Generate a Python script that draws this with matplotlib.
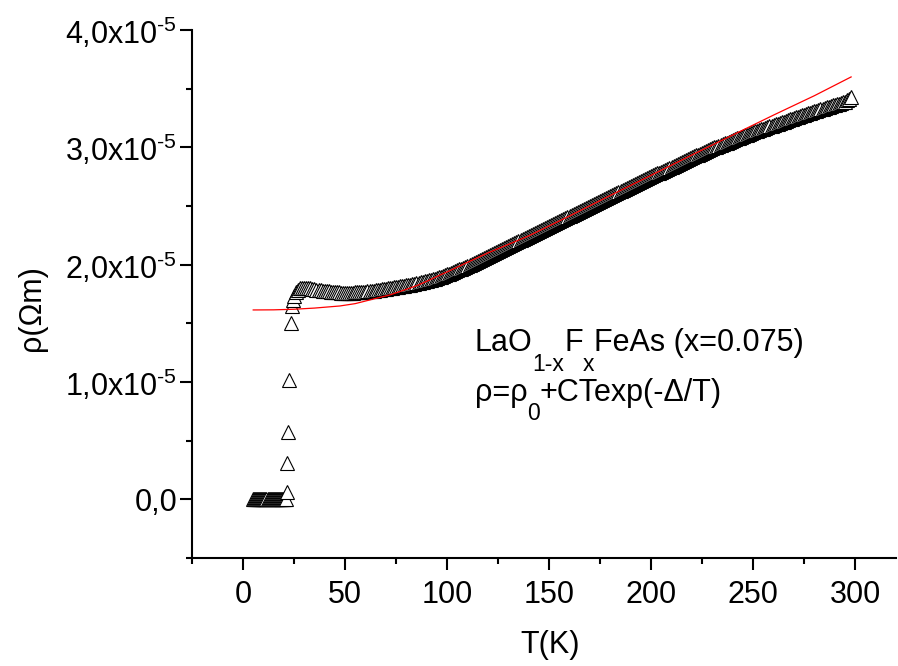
import matplotlib
matplotlib.use("Agg")
import matplotlib.pyplot as plt
from matplotlib.ticker import MultipleLocator

plt.rcParams['font.family'] = ['Liberation Sans', 'DejaVu Sans']
plt.rcParams['mathtext.fontset'] = 'custom'
plt.rcParams['mathtext.rm'] = 'Liberation Sans'
plt.rcParams['mathtext.it'] = 'Liberation Sans'
plt.rcParams['mathtext.default'] = 'regular'

# ---- data (resistivity in units of 1e-5 Ohm m) ----
T_low = [5.0, 5.5, 6.0, 6.5, 7.0, 7.5, 8.0, 8.5, 9.0, 9.5, 10.0, 10.5, 11.0, 11.5,
         12.0, 12.5, 13.0, 13.5, 14.0, 14.5, 15.0, 15.5, 16.0, 16.5, 17.0, 17.5,
         18.0, 18.5, 19.0, 19.5, 20.0, 20.5, 21.0]
rho_low = [0.0, 0.0, 0.0, 0.0, 0.0, 0.0, 0.0, 0.0, 0.0, 0.0, 0.0, 0.0, 0.0, 0.0,
           0.0, 0.0, 0.0, 0.0, 0.0, 0.0, 0.0, 0.0, 0.0, 0.0, 0.0, 0.0,
           0.0, 0.0, 0.0, 0.0, 0.0, 0.0, 0.0]

T_trans = [21.7, 21.6, 22.1, 22.7, 23.4, 23.9, 24.3]
rho_trans = [0.06, 0.306, 0.576, 1.015, 1.50, 1.645, 1.70]

T_main = [
    25, 26, 27, 28, 29, 30, 31, 32, 33, 34, 35, 36, 37, 38, 39, 40, 41, 42, 43, 44,
    45, 46, 47, 48, 49, 50, 51, 52, 53, 54, 55, 56, 57, 58, 59, 60, 61, 62, 63, 64,
    65, 66, 67, 68, 69, 70, 71, 72, 73, 74, 75, 76, 77, 78, 79, 80, 81, 82, 83, 84,
    85, 86, 87, 88, 89, 90, 91, 92, 93, 94, 95, 96, 97, 98, 99, 100, 101, 102, 103, 104,
    105, 106, 107, 108, 109, 110, 111, 112, 113, 114, 115, 116, 117, 118, 119, 120, 121, 122, 123, 124,
    125, 126, 127, 128, 129, 130, 131, 132, 133, 134, 135, 136, 137, 138, 139, 140, 141, 142, 143, 144,
    145, 146, 147, 148, 149, 150, 151, 152, 153, 154, 155, 156, 157, 158, 159, 160, 161, 162, 163, 164,
    165, 166, 167, 168, 169, 170, 171, 172, 173, 174, 175, 176, 177, 178, 179, 180, 181, 182, 183, 184,
    185, 186, 187, 188, 189, 190, 191, 192, 193, 194, 195, 196, 197, 198, 199, 200, 201, 202, 203, 204,
    205, 206, 207, 208, 209, 210, 211, 212, 213, 214, 215, 216, 217, 218, 219, 220, 221, 222, 223, 224,
    225, 226, 227, 228, 229, 230, 231, 232, 233, 234, 235, 236, 237, 238, 239, 240, 241, 242, 243, 244,
    245, 246, 247, 248, 249, 250, 251, 252, 253, 254, 255, 256, 257, 258, 259, 260, 261, 262, 263, 264,
    265, 266, 267, 268, 269, 270, 271, 272, 273, 274, 275, 276, 277, 278, 279, 280, 281, 282, 283, 284,
    285, 286, 287, 288, 289, 290, 291, 292, 293, 294, 295, 296, 297, 298]
rho_main = [
    1.730, 1.765, 1.785, 1.797, 1.803, 1.805, 1.804, 1.801, 1.798, 1.795,
    1.791, 1.788, 1.785, 1.782, 1.779, 1.776, 1.774, 1.772, 1.770, 1.768,
    1.766, 1.764, 1.763, 1.762, 1.761, 1.760, 1.760, 1.760, 1.761, 1.762,
    1.763, 1.764, 1.765, 1.767, 1.769, 1.771, 1.773, 1.775, 1.777, 1.779,
    1.782, 1.784, 1.787, 1.790, 1.793, 1.796, 1.798, 1.801, 1.804, 1.806,
    1.809, 1.812, 1.815, 1.818, 1.821, 1.824, 1.827, 1.830, 1.834, 1.837,
    1.841, 1.845, 1.849, 1.853, 1.857, 1.862, 1.866, 1.871, 1.876, 1.881,
    1.886, 1.892, 1.898, 1.904, 1.910, 1.917, 1.924, 1.931, 1.938, 1.945,
    1.952, 1.960, 1.967, 1.975, 1.982, 1.990, 1.998, 2.006, 2.014, 2.022,
    2.030, 2.039, 2.047, 2.055, 2.064, 2.072, 2.081, 2.089, 2.098, 2.106,
    2.115, 2.123, 2.132, 2.140, 2.149, 2.157, 2.166, 2.174, 2.183, 2.191,
    2.200, 2.208, 2.217, 2.225, 2.234, 2.242, 2.251, 2.259, 2.268, 2.276,
    2.285, 2.293, 2.302, 2.310, 2.319, 2.327, 2.336, 2.344, 2.353, 2.361,
    2.370, 2.378, 2.387, 2.395, 2.404, 2.412, 2.421, 2.429, 2.438, 2.446,
    2.455, 2.463, 2.472, 2.480, 2.489, 2.497, 2.506, 2.514, 2.523, 2.531,
    2.540, 2.548, 2.557, 2.565, 2.574, 2.582, 2.591, 2.599, 2.608, 2.616,
    2.625, 2.633, 2.642, 2.650, 2.659, 2.667, 2.676, 2.684, 2.693, 2.701,
    2.710, 2.718, 2.727, 2.735, 2.744, 2.752, 2.760, 2.769, 2.777, 2.785,
    2.794, 2.802, 2.810, 2.819, 2.827, 2.835, 2.843, 2.851, 2.859, 2.867,
    2.875, 2.883, 2.891, 2.899, 2.907, 2.915, 2.923, 2.931, 2.938, 2.946,
    2.954, 2.961, 2.969, 2.976, 2.984, 2.991, 2.999, 3.006, 3.013, 3.020,
    3.027, 3.034, 3.041, 3.048, 3.055, 3.062, 3.069, 3.076, 3.082, 3.089,
    3.096, 3.102, 3.109, 3.115, 3.122, 3.128, 3.135, 3.141, 3.147, 3.154,
    3.160, 3.166, 3.172, 3.178, 3.184, 3.190, 3.196, 3.202, 3.208, 3.214,
    3.220, 3.226, 3.232, 3.238, 3.244, 3.250, 3.256, 3.262, 3.267, 3.273,
    3.279, 3.284, 3.290, 3.296, 3.301, 3.307, 3.313, 3.318, 3.324, 3.329,
    3.335, 3.340, 3.346, 3.351, 3.357, 3.362, 3.368, 3.373, 3.379, 3.384,
    3.390, 3.400, 3.410, 3.425]

T_fit = [5, 15, 25, 35, 47.5, 55, 60, 65, 72, 78, 85, 90, 96.6, 101.5, 110, 120,
         140, 160, 180, 200, 220, 240, 260, 280, 298]
rho_fit = [1.614, 1.615, 1.620, 1.630, 1.648, 1.668, 1.690, 1.712, 1.742, 1.778,
           1.820, 1.858, 1.912, 1.950, 2.020, 2.100, 2.245, 2.415, 2.590, 2.762,
           2.935, 3.105, 3.275, 3.440, 3.600]

x_ticks = [0, 50, 100, 150, 200, 250, 300]
y_ticks = [0.0, 1.0, 2.0, 3.0, 4.0]
y_tick_labels = ['0,0', '1,0x10$^{\u20105}$', '2,0x10$^{\u20105}$',
                 '3,0x10$^{\u20105}$', '4,0x10$^{\u20105}$']

line1 = [('LaO', False), ('1-x', True), ('F', False), ('x', True), ('FeAs (x=0.075)', False)]
line2 = [('ρ=ρ', False), ('0', True), ('+CTexp(-Δ/T)', False)]

SCALE = 1e-5
FS = 22
SUB_FS = 16.5

fig = plt.figure(figsize=(8.98, 6.66), dpi=100)
ax = fig.add_axes([192/898, 108/666, 704/898, 528/666])

T_all = T_low + T_trans + T_main
rho_all = [r * SCALE for r in (rho_low + rho_trans + rho_main)]
ax.plot(T_all, rho_all, linestyle='none', marker='^', markersize=9.5,
        markerfacecolor='white', markeredgecolor='black', markeredgewidth=0.8, zorder=2)
ax.plot(T_fit, [r * SCALE for r in rho_fit], color='#ff0000', lw=0.9, zorder=3)

ax.set_xlim(-25, 320)
ax.set_ylim(-0.5 * SCALE, 4.0 * SCALE)
ax.set_xticks(x_ticks)
ax.set_xticklabels([str(t) for t in x_ticks])
ax.xaxis.set_minor_locator(MultipleLocator(25))
ax.set_yticks([v * SCALE for v in y_ticks])
ax.set_yticklabels(y_tick_labels)
ax.yaxis.set_minor_locator(MultipleLocator(0.5 * SCALE))

for s in ['top', 'right']:
    ax.spines[s].set_visible(False)
for s in ['left', 'bottom']:
    ax.spines[s].set_linewidth(1.5)

ax.tick_params(which='major', direction='out', length=8.6, width=1.5, labelsize=FS)
ax.tick_params(axis='x', which='major', pad=7)
ax.tick_params(axis='y', which='major', pad=2)
ax.tick_params(which='minor', direction='out', length=4.3, width=1.5)

fig.text(0.036, 0.537, 'ρ(Ωm)', rotation=90, ha='center', va='center', fontsize=FS)
fig.text(550 / 898, 1 - 645 / 666, 'T(K)', ha='center', va='center', fontsize=FS)


def chain_text(x, y, pieces, drop=12.5):
    first = ax.text(x, y, pieces[0][0], fontsize=FS, ha='left', va='baseline')
    prev = first
    for s, is_sub in pieces[1:]:
        prev = ax.annotate(s, xy=(1, 0), xycoords=(prev, first),
                           xytext=(0, -drop if is_sub else 0), textcoords='offset points',
                           fontsize=SUB_FS if is_sub else FS, ha='left', va='bottom')


chain_text(113.5, 1.262 * SCALE, line1)
chain_text(113.5, 0.84 * SCALE, line2)

fig.savefig('out.png', dpi=100)
